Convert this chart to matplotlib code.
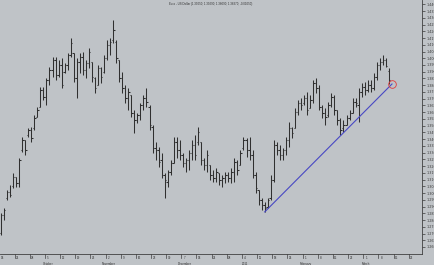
import matplotlib
matplotlib.use("Agg")
import matplotlib.pyplot as plt
import matplotlib.transforms as mtransforms
import numpy as np
import pandas as pd

# Daily EUR/USD bars, 13 Sep 2010 .. 10 Mar 2011
start_date = "2010-09-13"
trend_from = "2010-12-15"   # trend line starts at the lowest low after this date

opens = [1.2704, 1.2837, 1.2963, 1.3008, 1.3052, 1.3119, 1.3075, 1.3319, 1.3394, 1.3431,
         1.3468, 1.3483, 1.3564, 1.3638, 1.3764, 1.3712, 1.3838, 1.3913, 1.3987, 1.3875,
         1.3950, 1.3898, 1.3950, 1.4024, 1.4039, 1.3853, 1.3972, 1.4009, 1.3913, 1.3965,
         1.3972, 1.3853, 1.3801, 1.3927, 1.3898, 1.4002, 1.4098, 1.4135, 1.4120, 1.3987,
         1.3853, 1.3779, 1.3705, 1.3727, 1.3594, 1.3542, 1.3579, 1.3653, 1.3705, 1.3638,
         1.3490, 1.3334, 1.3319, 1.3245, 1.3134, 1.3082, 1.3156, 1.3223, 1.3379, 1.3319,
         1.3282, 1.3223, 1.3245, 1.3297, 1.3356, 1.3379, 1.3379, 1.3245, 1.3208, 1.3208,
         1.3134, 1.3112, 1.3149, 1.3097, 1.3112, 1.3134, 1.3112, 1.3156, 1.3230, 1.3208,
         1.3334, 1.3394, 1.3319, 1.3282, 1.3134, 1.3023, 1.2949, 1.2912, 1.2897, 1.2963,
         1.3097, 1.3356, 1.3319, 1.3282, 1.3319, 1.3394, 1.3483, 1.3483, 1.3601, 1.3668,
         1.3668, 1.3705, 1.3631, 1.3690, 1.3816, 1.3779, 1.3638, 1.3594, 1.3579, 1.3653,
         1.3712, 1.3616, 1.3542, 1.3483, 1.3505, 1.3557, 1.3594, 1.3675, 1.3653, 1.3750,
         1.3787, 1.3764, 1.3801, 1.3779, 1.3861, 1.3950, 1.3972, 1.3987, 1.3905]

highs = [1.2852, 1.2889, 1.3023, 1.3060, 1.3149, 1.3119, 1.3260, 1.3416, 1.3394, 1.3483,
         1.3490, 1.3579, 1.3638, 1.3787, 1.3787, 1.3853, 1.3935, 1.4009, 1.4009, 1.3987,
         1.4002, 1.3965, 1.4039, 1.4150, 1.4039, 1.4002, 1.4039, 1.4046, 1.3987, 1.4076,
         1.3972, 1.3861, 1.3950, 1.3935, 1.4024, 1.4135, 1.4150, 1.4283, 1.4135, 1.3987,
         1.3898, 1.3801, 1.3779, 1.3727, 1.3616, 1.3594, 1.3668, 1.3727, 1.3779, 1.3653,
         1.3505, 1.3379, 1.3342, 1.3297, 1.3149, 1.3171, 1.3245, 1.3416, 1.3416, 1.3394,
         1.3297, 1.3260, 1.3319, 1.3394, 1.3431, 1.3490, 1.3379, 1.3260, 1.3319, 1.3208,
         1.3171, 1.3186, 1.3149, 1.3134, 1.3156, 1.3156, 1.3186, 1.3260, 1.3245, 1.3319,
         1.3416, 1.3408, 1.3416, 1.3319, 1.3156, 1.3023, 1.2963, 1.2934, 1.2963, 1.3134,
         1.3394, 1.3379, 1.3356, 1.3334, 1.3416, 1.3527, 1.3490, 1.3631, 1.3690, 1.3705,
         1.3727, 1.3750, 1.3727, 1.3838, 1.3853, 1.3801, 1.3653, 1.3631, 1.3675, 1.3742,
         1.3727, 1.3616, 1.3557, 1.3542, 1.3579, 1.3616, 1.3705, 1.3705, 1.3779, 1.3816,
         1.3824, 1.3838, 1.3838, 1.3890, 1.3972, 1.4002, 1.4024, 1.4002, 1.3929]

lows = [1.2689, 1.2800, 1.2949, 1.2971, 1.3038, 1.3045, 1.3045, 1.3305, 1.3282, 1.3416,
        1.3379, 1.3468, 1.3564, 1.3638, 1.3690, 1.3653, 1.3801, 1.3861, 1.3838, 1.3861,
        1.3779, 1.3890, 1.3913, 1.4009, 1.3824, 1.3705, 1.3890, 1.3875, 1.3853, 1.3927,
        1.3824, 1.3742, 1.3801, 1.3816, 1.3890, 1.3987, 1.4024, 1.4113, 1.3965, 1.3824,
        1.3742, 1.3668, 1.3616, 1.3564, 1.3446, 1.3520, 1.3542, 1.3616, 1.3638, 1.3468,
        1.3297, 1.3245, 1.3193, 1.3112, 1.2963, 1.3045, 1.3134, 1.3223, 1.3260, 1.3245,
        1.3193, 1.3157, 1.3171, 1.3245, 1.3245, 1.3356, 1.3208, 1.3171, 1.3157, 1.3097,
        1.3082, 1.3082, 1.3060, 1.3045, 1.3075, 1.3082, 1.3075, 1.3082, 1.3134, 1.3208,
        1.3319, 1.3268, 1.3245, 1.3112, 1.3001, 1.2912, 1.2874, 1.2860, 1.2889, 1.2949,
        1.3082, 1.3282, 1.3245, 1.3245, 1.3282, 1.3342, 1.3408, 1.3483, 1.3579, 1.3616,
        1.3653, 1.3579, 1.3631, 1.3668, 1.3742, 1.3616, 1.3557, 1.3505, 1.3564, 1.3638,
        1.3579, 1.3505, 1.3431, 1.3453, 1.3505, 1.3542, 1.3594, 1.3638, 1.3527, 1.3712,
        1.3727, 1.3750, 1.3750, 1.3764, 1.3838, 1.3913, 1.3950, 1.3935, 1.3809]

closes = [1.2837, 1.2874, 1.3008, 1.2986, 1.3119, 1.3075, 1.3245, 1.3394, 1.3319, 1.3468,
          1.3408, 1.3557, 1.3616, 1.3764, 1.3712, 1.3838, 1.3913, 1.3987, 1.3875, 1.3950,
          1.3801, 1.3950, 1.4024, 1.4113, 1.3853, 1.3972, 1.4009, 1.3913, 1.3965, 1.4046,
          1.3861, 1.3779, 1.3927, 1.3861, 1.4002, 1.4098, 1.4120, 1.4209, 1.4002, 1.3853,
          1.3779, 1.3705, 1.3750, 1.3594, 1.3542, 1.3579, 1.3653, 1.3705, 1.3675, 1.3505,
          1.3334, 1.3319, 1.3230, 1.3134, 1.3097, 1.3156, 1.3223, 1.3379, 1.3319, 1.3282,
          1.3223, 1.3245, 1.3297, 1.3356, 1.3282, 1.3453, 1.3245, 1.3208, 1.3282, 1.3134,
          1.3112, 1.3156, 1.3097, 1.3112, 1.3134, 1.3112, 1.3156, 1.3230, 1.3171, 1.3297,
          1.3394, 1.3319, 1.3282, 1.3134, 1.3038, 1.2949, 1.2912, 1.2889, 1.2949, 1.3097,
          1.3356, 1.3319, 1.3282, 1.3319, 1.3394, 1.3483, 1.3446, 1.3601, 1.3668, 1.3653,
          1.3705, 1.3616, 1.3690, 1.3816, 1.3779, 1.3638, 1.3594, 1.3564, 1.3653, 1.3712,
          1.3616, 1.3542, 1.3468, 1.3505, 1.3557, 1.3594, 1.3675, 1.3668, 1.3750, 1.3787,
          1.3764, 1.3801, 1.3779, 1.3861, 1.3950, 1.3972, 1.3987, 1.3942, 1.3837]

title = "Euro - US Dollar (1.39050, 1.39290, 1.38090, 1.38370, -0.01050)"
month_names = {10: "October", 11: "November", 12: "December", 1: "2011", 2: "February", 3: "March"}

bg = "#bfc3c7"
ink = "#303030"
fs = 2.2

n = len(closes)
idx = np.arange(n)
# calendar extends a little past the last bar (axis runs on into March)
cal = pd.bdate_range(start_date, periods=n + 11)

fig = plt.figure(figsize=(4.35, 2.65), dpi=100, facecolor=bg)
ax = fig.add_axes([0, 11 / 265, 422 / 435, 254 / 265], facecolor=bg)
plt.rcParams['font.family'] = ['Liberation Sans', 'DejaVu Sans']

# OHLC bars
ax.vlines(idx, lows, highs, color=ink, linewidth=0.75)
ax.hlines(opens, idx - 0.45, idx, color=ink, linewidth=0.75)
ax.hlines(closes, idx, idx + 0.45, color=ink, linewidth=0.75)

# trend line from the January low to just past the last bar, and the circle
first = int(np.searchsorted(cal, pd.Timestamp(trend_from)))
lo_i = first + int(np.argmin(lows[first:]))
ax.plot([lo_i, n], [lows[lo_i], lows[-1]], color="#4848c4", linewidth=0.8)
ax.plot([n], [lows[-1]], marker="o", markersize=5.5, markerfacecolor="none",
        markeredgecolor="#e03a3a", markeredgewidth=0.6)

ax.set_xlim(-0.33, 138.9)
ax.set_ylim(1.2548, 1.4432)

for s in ["top", "left"]:
    ax.spines[s].set_visible(False)
for s in ["right", "bottom"]:
    ax.spines[s].set_color("#404040")
    ax.spines[s].set_linewidth(0.6)

# price axis on the right
ax.yaxis.tick_right()
yt = np.round(np.arange(1.260, 1.4401, 0.005), 3)
ax.set_yticks(yt)
ax.set_yticklabels([f"{v:.3f}" for v in yt])
ax.tick_params(axis="y", direction="out", length=2.2, width=0.5, pad=0.8,
               labelsize=fs + 0.2, colors="#383838")

# weekly date axis (Tuesdays)
ax.set_xticks([])
trans = mtransforms.blended_transform_factory(ax.transData, ax.transAxes)
tues = [(i, d) for i, d in enumerate(cal) if d.weekday() == 1]
for i, d in tues:
    ax.plot([i - 1.5, i - 1.5], [0, -0.016], transform=trans, color="#404040",
            linewidth=0.5, clip_on=False)
    ax.text(i - 0.5, -0.006, str(d.day), transform=trans, ha="center", va="top",
            fontsize=fs, color=ink)
    if d.day <= 7 and d.month in month_names:
        ax.text(i - 0.5, -0.03, month_names[d.month], transform=trans, ha="center",
                va="top", fontsize=fs, color=ink)

ax.text(0.5, 1 - 4 / 254, title, transform=ax.transAxes, ha="center", va="center",
        fontsize=fs - 0.1, color=ink)

fig.savefig("out.png", dpi=100, facecolor=bg)
